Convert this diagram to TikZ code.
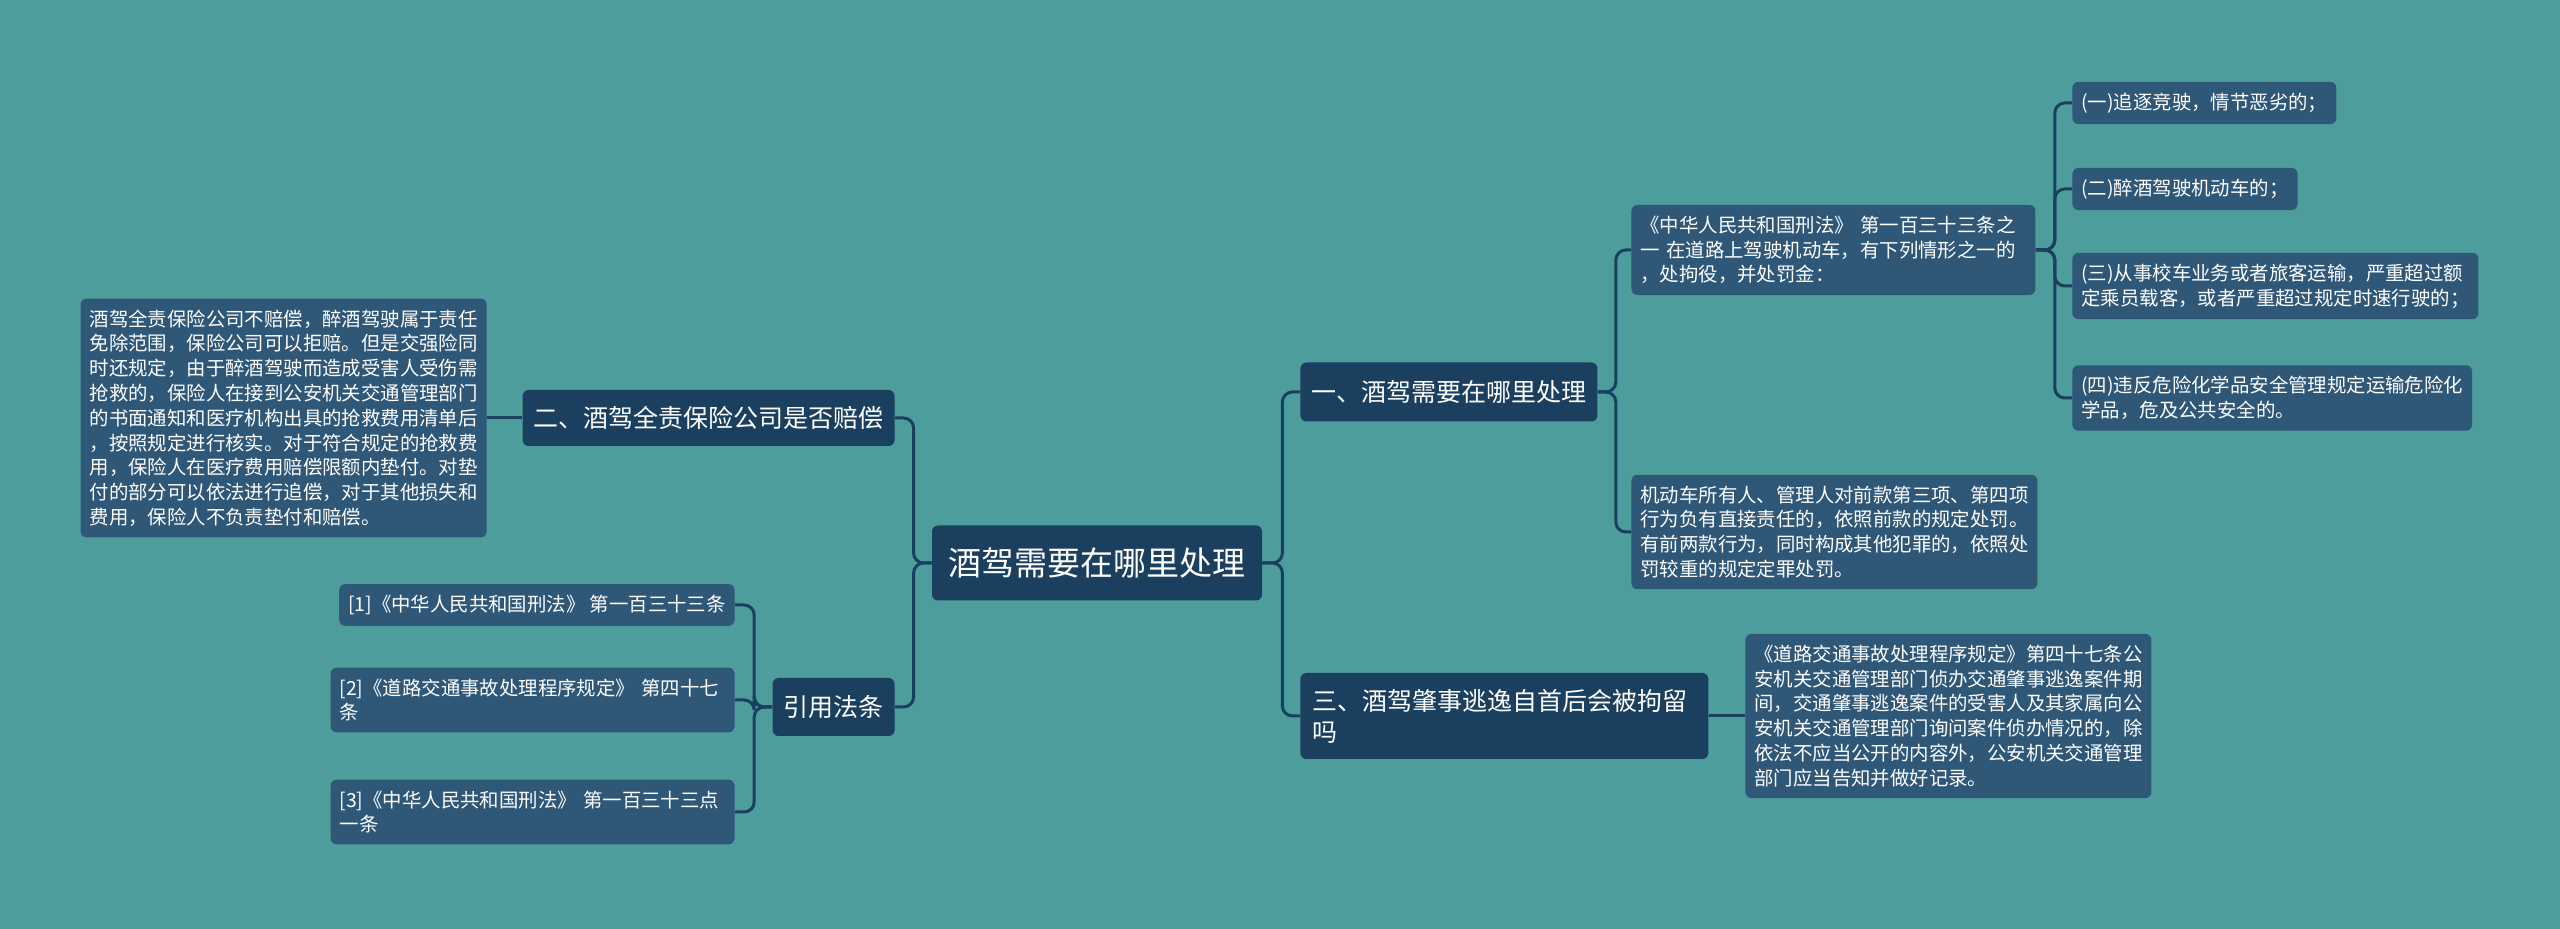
\documentclass[tikz,border=0pt]{standalone}
\usepackage{fontspec}
\setmainfont{Noto Sans CJK SC}
\usetikzlibrary{positioning}
\definecolor{bgteal}{HTML}{4E9D9D}
\definecolor{navy}{HTML}{1B3F5F}
\definecolor{leafblue}{HTML}{2F5778}

\begin{document}
\begin{tikzpicture}[x=0.5pt, y=-0.5pt,
    root/.style={fill=navy, text=white, rounded corners=3pt, font=\fontsize{16.5}{20}\selectfont, minimum width=165pt, minimum height=37.5pt},
    topic/.style={fill=navy, text=white, rounded corners=3pt, font=\fontsize{12.5}{15.5}\selectfont, align=left, inner xsep=5.5pt, inner ysep=8pt},
    leaf/.style={fill=leafblue, text=white, rounded corners=3pt, font=\fontsize{9.7}{12.4}\selectfont, align=left, inner xsep=4.5pt, inner ysep=5.5pt},
    link/.style={draw=navy, line width=1.5pt, rounded corners=5pt}]
  \fill[bgteal] (0,0) rectangle (2560,929);
  \useasboundingbox (0,0) rectangle (2560,929);

  \node[root] (root) at (1097,563) {酒驾需要在哪里处理};

  \node[topic, anchor=west, minimum height=29.5pt] (one) at (1300,392) {一、酒驾需要在哪里处理};
  \node[topic, anchor=west, text width=192pt, inner xsep=6pt] (three) at (1300,716) {三、酒驾肇事逃逸自首后会被拘留\\吗};
  \node[topic, anchor=east, minimum height=28pt] (two) at (895,418) {二、酒驾全责保险公司是否赔偿};
  \node[topic, anchor=east, minimum height=29pt] (cite) at (895,707) {引用法条};

  \node[leaf, anchor=east] (insure) at (487,418) {酒驾全责保险公司不赔偿，醉酒驾驶属于责任\\免除范围，保险公司可以拒赔。但是交强险同\\时还规定，由于醉酒驾驶而造成受害人受伤需\\抢救的，保险人在接到公安机关交通管理部门\\的书面通知和医疗机构出具的抢救费用清单后\\，按照规定进行核实。对于符合规定的抢救费\\用，保险人在医疗费用赔偿限额内垫付。对垫\\付的部分可以依法进行追偿，对于其他损失和\\费用，保险人不负责垫付和赔偿。};

  \node[leaf, anchor=east] (ref1) at (735,605) {[1]《中华人民共和国刑法》 第一百三十三条};
  \node[leaf, anchor=east, text width=193pt] (ref2) at (735,700) {[2]《道路交通事故处理程序规定》 第四十七\\条};
  \node[leaf, anchor=east, text width=193pt] (ref3) at (735,812) {[3]《中华人民共和国刑法》 第一百三十三点\\一条};

  \node[leaf, anchor=west, text width=193pt] (xingfa) at (1631,250) {《中华人民共和国刑法》 第一百三十三条之\\一 在道路上驾驶机动车，有下列情形之一的\\，处拘役，并处罚金：};
  \node[leaf, anchor=west] (owner) at (1631,532) {机动车所有人、管理人对前款第三项、第四项\\行为负有直接责任的，依照前款的规定处罚。\\有前两款行为，同时构成其他犯罪的，依照处\\罚较重的规定定罪处罚。};

  \node[leaf, anchor=west] (item1) at (2072,103) {(一)追逐竞驶，情节恶劣的；};
  \node[leaf, anchor=west] (item2) at (2072,189) {(二)醉酒驾驶机动车的；};
  \node[leaf, anchor=west] (item3) at (2072,286) {(三)从事校车业务或者旅客运输，严重超过额\\定乘员载客，或者严重超过规定时速行驶的；};
  \node[leaf, anchor=west] (item4) at (2072,398) {(四)违反危险化学品安全管理规定运输危险化\\学品，危及公共安全的。};

  \node[leaf, anchor=west] (hitrun) at (1745,716) {《道路交通事故处理程序规定》第四十七条公\\安机关交通管理部门侦办交通肇事逃逸案件期\\间，交通肇事逃逸案件的受害人及其家属向公\\安机关交通管理部门询问案件侦办情况的，除\\依法不应当公开的内容外，公安机关交通管理\\部门应当告知并做好记录。};

  \foreach \n in {one,three}
    \draw[link] (root.east) -- ++(10pt,0) |- (\n.west);
  \foreach \n in {two,cite}
    \draw[link] (root.west) -- ++(-9pt,0) |- (\n.east);
  \draw[link] (two.west) -- (insure.east);
  \foreach \n in {ref1,ref2,ref3}
    \draw[link] (cite.west) -- ++(-9pt,0) |- (\n.east);
  \foreach \n in {xingfa,owner}
    \draw[link] (one.east) -- ++(9pt,0) |- (\n.west);
  \foreach \n in {item1,item2,item3,item4}
    \draw[link] (xingfa.east) -- ++(9.5pt,0) |- (\n.west);
  \draw[link] (three.east) -- (hitrun.west);
\end{tikzpicture}
\end{document}
